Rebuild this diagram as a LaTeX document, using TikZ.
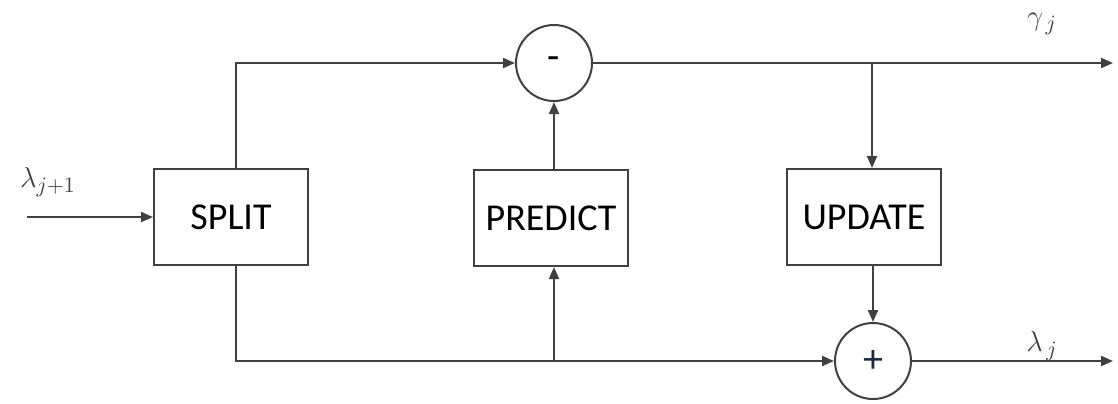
\documentclass[tikz,border=0pt]{standalone}
\usepackage{fontspec}
\setmainfont{Carlito}
\usetikzlibrary{arrows.meta}
\begin{document}
\begin{tikzpicture}[x=0.5pt,y=-0.5pt,
  line/.style={draw=black!75, line width=1pt},
  arr/.style={line, -{Triangle[length=6pt,width=5pt]}},
  block/.style={line, fill=white, minimum width=77pt, minimum height=48pt, inner sep=0pt, font=\fontsize{19}{22}\selectfont},
  sumnode/.style={line, circle, minimum size=38pt, inner sep=0pt, font=\fontsize{20}{22}\selectfont},
  lab/.style={font=\fontsize{15}{17}\selectfont, text=black!75}]
\useasboundingbox (0,0) rectangle (1118,403);
\node[block] (split) at (231,217) {SPLIT};
\node[block] (predict) at (551,218) {PREDICT};
\node[block] (update) at (864,217) {UPDATE};
\node[sumnode] (minus) at (554,63) {\raisebox{-1pt}{-}};
\node[sumnode] (plus) at (873,361) {\textcolor[HTML]{1A2A40}{+}};
\coordinate (in) at (27,217);
\coordinate (c1) at (236,63);
\coordinate (c2) at (236,361);
\coordinate (b1) at (554,361);
\coordinate (b2) at (872,63);
\coordinate (out1) at (1113,63);
\coordinate (out2) at (1113,361);
\draw[arr] (in) -- (split.west);
\draw[arr] (split.north -| c1) -- (c1) -- (minus.west);
\draw[arr] (split.south -| c2) -- (c2) -- (plus.west);
\draw[arr] (predict.north -| minus) -- (minus.south);
\draw[arr] (b1) -- (predict.south -| b1);
\draw[arr] (minus.east) -- (out1);
\draw[arr] (b2) -- (update.north -| b2);
\draw[arr] (update.south -| plus) -- (plus.north);
\draw[arr] (plus.east) -- (out2);
\node[lab] (lin) at (48,182) {$\lambda_{j+1}$};
\node[lab] (lgam) at (1042,24) {$\gamma_{\,j}$};
\node[lab] (llam) at (1042,346) {$\lambda_{\,j}$};
\end{tikzpicture}
\end{document}
